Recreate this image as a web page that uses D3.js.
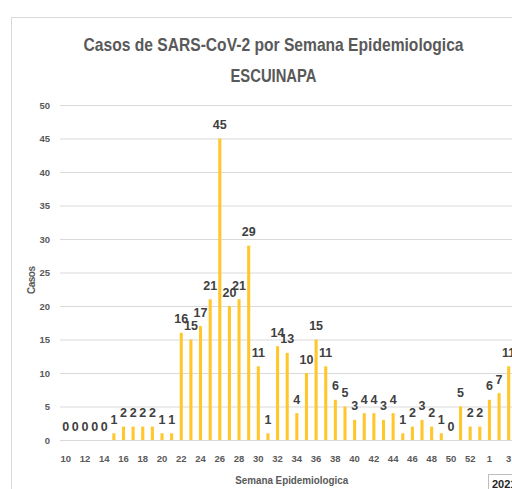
<!doctype html>
<html>
<head>
<meta charset="utf-8">
<title></title>
<script src="https://cdn.jsdelivr.net/npm/d3@7"></script>
<style>
	body { margin: 0; background: #fff; }
	text { font-family: "Liberation Sans", Arial, sans-serif; }
</style>
</head>
<body>
<div id="main"></div>
<script>
	// semanas 2020 (10..53) y 2021 (1..3)
	var weeks2020 = [10, 11, 12, 13, 14, 15, 16, 17, 18, 19, 20, 21, 22, 23, 24, 25, 26, 27, 28, 29, 30, 31,
		32, 33, 34, 35, 36, 37, 38, 39, 40, 41, 42, 43, 44, 45, 46, 47, 48, 49, 50, 51, 52, 53];
	var cases2020 = [0, 0, 0, 0, 0, 1, 2, 2, 2, 2, 1, 1, 16, 15, 17, 21, 45, 20, 21, 29, 11, 1,
		14, 13, 4, 10, 15, 11, 6, 5, 3, 4, 4, 3, 4, 1, 2, 3, 2, 1, 0, 5, 2, 2];
	var weeks2021 = [1, 2, 3];
	var cases2021 = [6, 7, 11];
	var yTicks = [0, 5, 10, 15, 20, 25, 30, 35, 40, 45, 50];

	var data = [];
	weeks2020.forEach(function(w, i) { data.push({ key: '2020-' + w, week: w, value: cases2020[i] }); });
	weeks2021.forEach(function(w, i) { data.push({ key: '2021-' + w, week: w, value: cases2021[i] }); });

	var W = 512, H = 489;
	var left = 60.9, step = 9.63;
	var right = left + step * data.length;
	var grey = '#595959';

	var svg = d3.select('#main').append('svg')
		.attr('width', W)
		.attr('height', H);

	// marco del grafico
	svg.append('rect')
		.attr('x', 11.5).attr('y', 17.5)
		.attr('width', 600).attr('height', 600)
		.style('fill', 'none')
		.style('stroke', '#d9d9d9');

	var x = d3.scaleBand()
		.domain(data.map(function(d) { return d.key; }))
		.range([left, right])
		.paddingInner(0.68)
		.paddingOuter(0.34);

	var y = d3.scaleLinear().domain([0, 50]).range([440, 105]);

	// lineas de la cuadricula + etiquetas del eje y
	var yAxis = svg.append('g')
		.attr('transform', 'translate(' + 60 + ',0)')
		.call(d3.axisLeft(y).tickValues(yTicks).tickSize(-(W - 60)).tickPadding(10));
	yAxis.select('.domain').remove();
	yAxis.selectAll('line').style('stroke', '#d9d9d9');
	yAxis.selectAll('text')
		.style('font-size', '9.5px')
		.style('font-weight', 'bold')
		.style('fill', grey);

	// barras
	svg.append('g').selectAll('rect')
		.data(data)
		.enter().append('rect')
		.attr('x', function(d) { return x(d.key); })
		.attr('y', function(d) { return y(d.value); })
		.attr('width', x.bandwidth())
		.attr('height', function(d) { return y(0) - y(d.value); })
		.style('fill', '#FFC72C');

	// etiquetas de datos
	svg.append('g').selectAll('text')
		.data(data)
		.enter().append('text')
		.attr('x', function(d) { return x(d.key) + x.bandwidth() / 2; })
		.attr('y', function(d) { return y(d.value) - 9.5; })
		.attr('text-anchor', 'middle')
		.style('font-size', '12.5px')
		.style('font-weight', 'bold')
		.style('fill', '#404040')
		.text(function(d) { return d.value; });

	// eje x (una etiqueta si, otra no)
	var xAxis = svg.append('g')
		.attr('transform', 'translate(0,' + 452 + ')')
		.call(d3.axisBottom(x)
			.tickValues(x.domain().filter(function(k, i) { return i % 2 === 0; }))
			.tickFormat(function(k) { return k.split('-')[1]; })
			.tickSize(0));
	xAxis.select('.domain').remove();
	xAxis.selectAll('text')
		.style('font-size', '9.5px')
		.style('font-weight', 'bold')
		.style('fill', grey);

	// caja del año
	svg.append('rect')
		.attr('x', 488.5).attr('y', 474.5)
		.attr('width', 60).attr('height', 30)
		.style('fill', '#fff')
		.style('stroke', '#bfbfbf');
	svg.append('text')
		.attr('x', 492).attr('y', 488)
		.style('font-size', '11px')
		.style('font-weight', 'bold')
		.style('fill', '#262626')
		.text('2021');

	// titulos
	svg.append('text')
		.attr('x', 273.5).attr('y', 50.5)
		.attr('text-anchor', 'middle')
		.attr('textLength', 380)
		.attr('lengthAdjust', 'spacingAndGlyphs')
		.style('font-size', '19px')
		.style('font-weight', 'bold')
		.style('fill', grey)
		.text('Casos de SARS-CoV-2 por Semana Epidemiologica');
	svg.append('text')
		.attr('x', 273.5).attr('y', 81.5)
		.attr('text-anchor', 'middle')
		.attr('textLength', 86)
		.attr('lengthAdjust', 'spacingAndGlyphs')
		.style('font-size', '19px')
		.style('font-weight', 'bold')
		.style('fill', grey)
		.text('ESCUINAPA');

	svg.append('text')
		.attr('x', 291.7).attr('y', 484)
		.attr('text-anchor', 'middle')
		.attr('textLength', 113)
		.attr('lengthAdjust', 'spacingAndGlyphs')
		.style('font-size', '10px')
		.style('font-weight', 'bold')
		.style('fill', grey)
		.text('Semana Epidemiologica');

	svg.append('text')
		.attr('transform', 'translate(35,280) rotate(-90)')
		.attr('text-anchor', 'middle')
		.attr('textLength', 28)
		.attr('lengthAdjust', 'spacing')
		.style('font-size', '10px')
		.style('font-weight', 'bold')
		.style('fill', grey)
		.text('Casos');
</script>
</body>
</html>
